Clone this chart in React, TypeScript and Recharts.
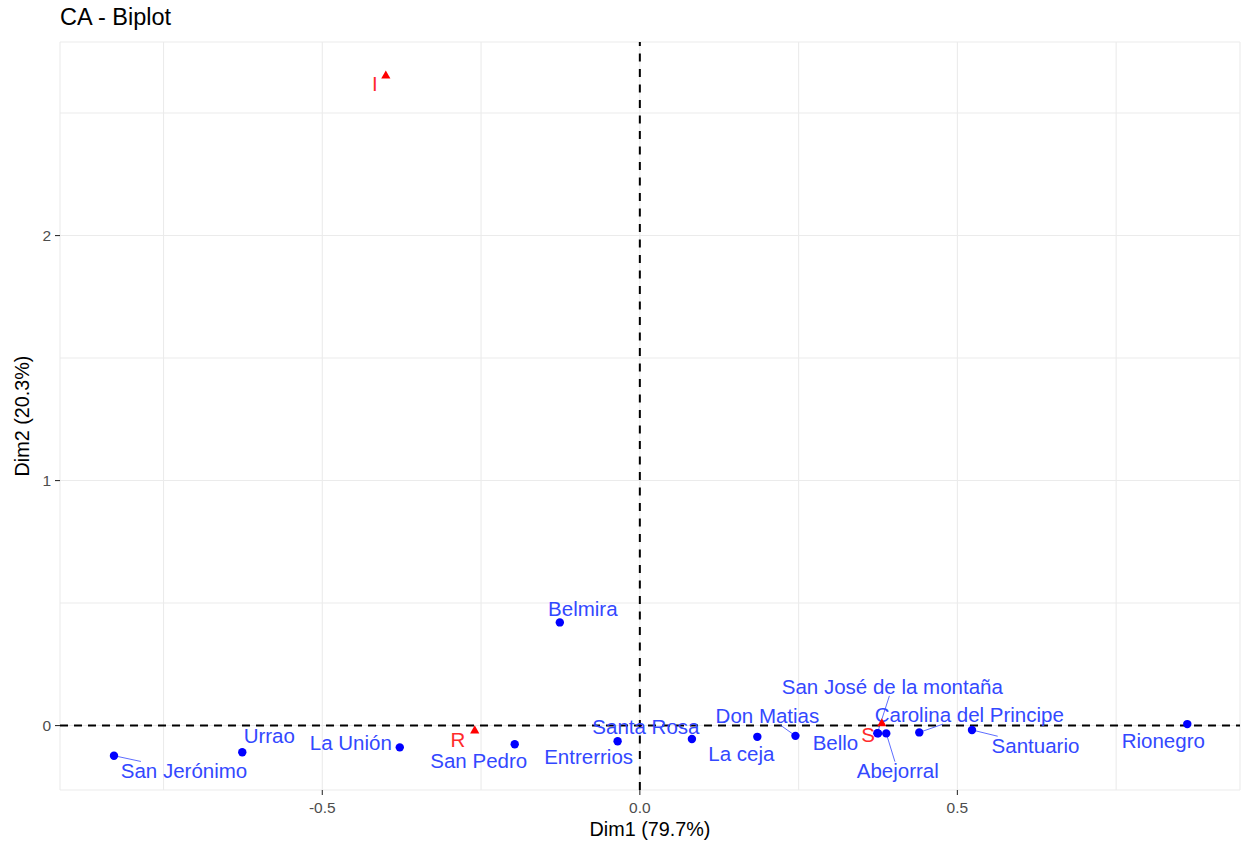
import {
  CartesianGrid,
  ReferenceLine,
  Scatter,
  ScatterChart,
  XAxis,
  YAxis,
} from "recharts";

// row points (municipios)
const rowNames = [
  "San Jerónimo",
  "Urrao",
  "La Unión",
  "San Pedro",
  "Belmira",
  "Entrerrios",
  "Santa Rosa",
  "La ceja",
  "Don Matias",
  "Bello",
  "San José de la montaña",
  "Abejorral",
  "Carolina del Principe",
  "Santuario",
  "Rionegro",
];
const rowDim1 = [-0.828, -0.626, -0.378, -0.197, -0.126, -0.035, 0.082, 0.185, 0.245, 0.375, 0.374, 0.388, 0.44, 0.523, 0.862];
const rowDim2 = [-0.123, -0.109, -0.089, -0.076, 0.421, -0.064, -0.055, -0.046, -0.042, -0.032, -0.031, -0.032, -0.028, -0.018, 0.006];

// column points
const colNames = ["I", "R", "S"];
const colDim1 = [-0.4, -0.26, 0.381];
const colDim2 = [2.655, -0.018, 0.011];

const xTicks = [-0.75, -0.5, -0.25, 0, 0.25, 0.5, 0.75];
const yTicks = [0, 0.5, 1, 1.5, 2, 2.5];
const xMajor: Record<string, string> = { "-0.5": "-0.5", "0": "0.0", "0.5": "0.5" };
const yMajor: Record<string, string> = { "0": "0", "1": "1", "2": "2" };

// label placement (pixel nudges, like ggrepel did it)
const nudge: Record<string, [number, number]> = {
  "San Jerónimo": [70, 15],
  Urrao: [27, -17],
  "La Unión": [-49, -5],
  "San Pedro": [-36, 16],
  Belmira: [23, -13.5],
  Entrerrios: [-29, 15],
  "Santa Rosa": [-46, -13],
  "La ceja": [-16, 17],
  "Don Matias": [-28, -20],
  Bello: [-42.5, 9],
  "San José de la montaña": [15, -46.5],
  Abejorral: [11.5, 37.5],
  "Carolina del Principe": [50, -17.5],
  Santuario: [63.5, 15.5],
  Rionegro: [-24, 16.3],
  I: [-11, 8.7],
  R: [-16.7, 9.5],
  S: [-13.7, 11.3],
};
const withSegment = new Set([
  "San Jerónimo",
  "Don Matias",
  "San José de la montaña",
  "Abejorral",
  "Carolina del Principe",
  "Santuario",
]);

const rows = rowNames.map((name, i) => ({ name, x: rowDim1[i], y: rowDim2[i] }));
const cols = colNames.map((name, i) => ({ name, x: colDim1[i], y: colDim2[i] }));

const FONT = "'Liberation Sans', Arial, Helvetica, sans-serif";
const LABEL_SIZE = 20.5;

const segmentEnd = (cx: number, cy: number, lx: number, ly: number, name: string) => {
  const hw = (name.length * LABEL_SIZE * 0.5) / 2 + 2;
  const hh = LABEL_SIZE * 0.45;
  const dx = lx - cx;
  const dy = ly - cy;
  let t = 1;
  if (Math.abs(dx) > 0) t = Math.min(t, hw / Math.abs(dx));
  if (Math.abs(dy) > 0) t = Math.min(t, hh / Math.abs(dy));
  return [lx - dx * t, ly - dy * t];
};

const makeShape = (kind: "row" | "col") => (props: any) => {
  const { cx, cy, payload } = props;
  const name = payload.name as string;
  const [ndx, ndy] = nudge[name] || [0, 0];
  const lx = cx + ndx;
  const ly = cy + ndy;
  const pointColor = kind === "row" ? "#0000ff" : "#ff0000";
  const textColor = kind === "row" ? "#3348ff" : "#ff2b2b";
  let seg = null;
  if (withSegment.has(name)) {
    const [ex, ey] = segmentEnd(cx, cy, lx, ly, name);
    seg = <line x1={cx} y1={cy} x2={ex} y2={ey} stroke={textColor} strokeWidth={0.8} />;
  }
  const s = 4.6;
  return (
    <g>
      {seg}
      {kind === "row" ? (
        <circle cx={cx} cy={cy} r={4.2} fill={pointColor} />
      ) : (
        <polygon
          points={`${cx},${cy - s} ${cx - s},${cy + s * 0.75} ${cx + s},${cy + s * 0.75}`}
          fill={pointColor}
        />
      )}
      <text
        x={lx}
        y={ly}
        textAnchor="middle"
        dominantBaseline="central"
        fontFamily={FONT}
        fontSize={LABEL_SIZE}
        fill={textColor}
      >
        {name}
      </text>
    </g>
  );
};

const XTick = (props: any) => {
  const { x, y, payload } = props;
  const label = xMajor[String(payload.value)];
  if (label === undefined) return null;
  return (
    <g>
      <line x1={x} x2={x} y1={y} y2={y + 5} stroke="#333333" strokeWidth={1.1} />
      <text x={x} y={y + 17} textAnchor="middle" dominantBaseline="central" fontFamily={FONT} fontSize={15.5} fill="#4d4d4d">
        {label}
      </text>
    </g>
  );
};

const YTick = (props: any) => {
  const { x, y, payload } = props;
  const label = yMajor[String(payload.value)];
  if (label === undefined) return null;
  return (
    <g>
      <line x1={x - 5} x2={x} y1={y} y2={y} stroke="#333333" strokeWidth={1.1} />
      <text x={x - 9} y={y} textAnchor="end" dominantBaseline="central" fontFamily={FONT} fontSize={15.5} fill="#4d4d4d">
        {label}
      </text>
    </g>
  );
};

export default function App() {
  return (
    <div style={{ position: "absolute", left: 0, top: 0, width: 1244, height: 845, background: "#fff" }}>
      <ScatterChart width={1244} height={845} margin={{ top: 42, right: 4, bottom: 0, left: 0 }}>
        <CartesianGrid stroke="#ebebeb" strokeWidth={1.1} />
        <XAxis
          type="number"
          dataKey="x"
          domain={[-0.913, 0.945]}
          allowDataOverflow
          ticks={xTicks}
          interval={0}
          height={55}
          axisLine={false}
          tickLine={false}
          tickSize={0}
          tickMargin={0}
          tick={<XTick />}
        />
        <YAxis
          type="number"
          dataKey="y"
          domain={[-0.263, 2.79]}
          allowDataOverflow
          ticks={yTicks}
          interval={0}
          width={60}
          axisLine={false}
          tickLine={false}
          tickSize={0}
          tickMargin={0}
          tick={<YTick />}
        />
        <Scatter data={rows} isAnimationActive={false} shape={makeShape("row")} />
        <Scatter data={cols} isAnimationActive={false} shape={makeShape("col")} />
        <ReferenceLine y={0} stroke="#000" strokeWidth={2} strokeDasharray="8 6" />
        <ReferenceLine x={0} stroke="#000" strokeWidth={2} strokeDasharray="8 7.5" />
      </ScatterChart>
      <div
        style={{
          position: "absolute",
          left: 60,
          top: 2,
          fontFamily: FONT,
          fontSize: 23.5,
          color: "#000",
          lineHeight: "30px",
        }}
      >
        CA - Biplot
      </div>
      <div
        style={{
          position: "absolute",
          left: 0,
          width: 1300,
          textAlign: "center",
          top: 816,
          fontFamily: FONT,
          fontSize: 19.8,
          color: "#000",
          lineHeight: "26px",
        }}
      >
        Dim1 (79.7%)
      </div>
      <div
        style={{
          position: "absolute",
          left: 22,
          top: 416,
          transform: "translate(-50%, -50%) rotate(-90deg)",
          fontFamily: FONT,
          fontSize: 19.8,
          color: "#000",
          whiteSpace: "nowrap",
          lineHeight: "26px",
        }}
      >
        Dim2 (20.3%)
      </div>
    </div>
  );
}
